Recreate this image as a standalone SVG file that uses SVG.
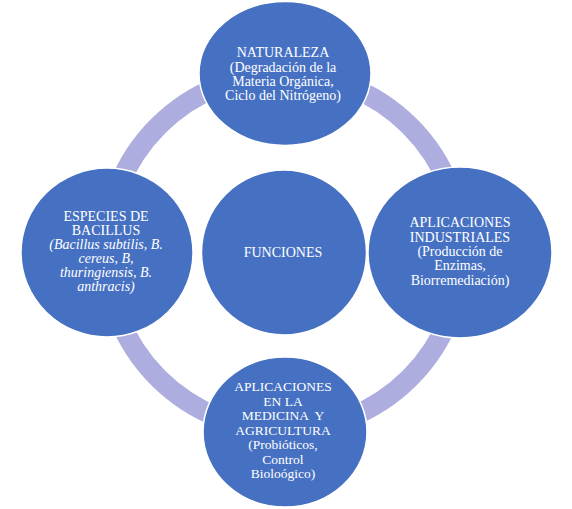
<svg xmlns="http://www.w3.org/2000/svg" width="572" height="509" viewBox="0 0 572 509">
<style>
.node{fill:#4671c3;stroke:#ffffff;stroke-width:1.5}
.ring{fill:none;stroke:#adaddf;stroke-width:20}
.t{font-family:"Liberation Serif","Times New Roman",serif;font-size:14px;fill:#ffffff;text-anchor:middle}
.s{font-size:13.5px}
.i{font-style:italic}
</style>
<rect width="572" height="509" fill="#ffffff"/>
<g id="connectors">
<circle class="ring" cx="284" cy="252" r="178"/>
</g>
<g id="node-funciones">
<ellipse class="node" cx="284" cy="252.5" rx="82.5" ry="82.5"/>
<text class="t" x="283" y="257">FUNCIONES</text>
</g>
<g id="node-naturaleza">
<ellipse class="node" cx="285" cy="73.5" rx="86" ry="72"/>
<text class="t" x="283" y="57">NATURALEZA</text>
<text class="t" x="283" y="71.5">(Degradación de la</text>
<text class="t" x="283" y="86">Materia Orgánica,</text>
<text class="t" x="283" y="100">Ciclo del Nitrógeno)</text>
</g>
<g id="node-especies">
<ellipse class="node" cx="107" cy="252.5" rx="86" ry="84.5"/>
<text class="t" x="106" y="221">ESPECIES DE</text>
<text class="t" x="106" y="235">BACILLUS</text>
<text class="t i" x="106" y="249">(Bacillus subtilis, B.</text>
<text class="t i" x="106" y="263">cereus, B,</text>
<text class="t i" x="106" y="277">thuringiensis, B.</text>
<text class="t i" x="106" y="291">anthracis)</text>
</g>
<g id="node-industriales">
<ellipse class="node" cx="460" cy="252.5" rx="92" ry="85.5"/>
<text class="t" x="460" y="227">APLICACIONES</text>
<text class="t" x="460" y="242">INDUSTRIALES</text>
<text class="t" x="460" y="256">(Producción de</text>
<text class="t" x="460" y="270">Enzimas,</text>
<text class="t" x="460" y="285">Biorremediación)</text>
</g>
<g id="node-medicina">
<ellipse class="node" cx="285" cy="432" rx="82" ry="75"/>
<text class="t s" x="283" y="391">APLICACIONES</text>
<text class="t s" x="283" y="405.5">EN LA</text>
<text class="t s" x="283" y="420" xml:space="preserve">MEDICINA  Y</text>
<text class="t s" x="283" y="434.5">AGRICULTURA</text>
<text class="t s" x="283" y="449">(Probióticos,</text>
<text class="t s" x="283" y="463.5">Control</text>
<text class="t s" x="283" y="478">Bioloógico)</text>
</g>
</svg>
